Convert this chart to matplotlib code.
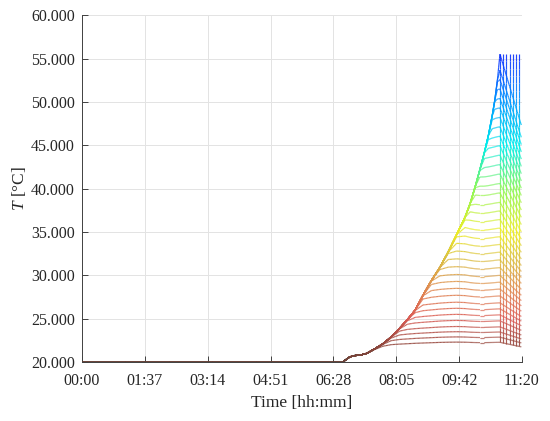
import numpy as np
import matplotlib
matplotlib.use("Agg")
import matplotlib.pyplot as plt
from matplotlib.collections import LineCollection
from matplotlib.colors import Normalize, LinearSegmentedColormap

# ---------------- data ----------------
# time axis in minutes since 00:00
time_min = [0, 403, 414, 422, 430, 440, 452, 465, 478, 491, 503, 515, 527, 540,
            553, 566, 579, 592, 600, 608, 615, 622, 628, 634, 638, 642, 646]
# upper envelope (hottest trace) in degC
envelope = [20.0, 20.0, 20.6, 20.75, 20.8, 21.0, 21.5, 22.1, 22.9, 23.9, 24.9, 26.0,
            27.7, 29.4, 30.9, 32.7, 34.7, 36.7, 38.3, 40.3, 42.2, 44.2, 46.1, 48.4,
            50.2, 52.5, 55.5]
# relative plateau shape of the cooler traces (fraction of rise at the hump)
profile = [1.0, 1.0, 1.0, 1.0, 1.0, 0.80, 0.83, 0.86, 0.88, 0.90, 0.92, 0.94,
           0.955, 0.97, 0.985, 0.995, 1.0, 0.995, 0.985, 0.978, 0.975, 0.975,
           0.978, 0.982, 0.985, 0.988, 0.99]
# plateau level of each trace (degC at ~09:40)
levels = [22.3, 22.9, 23.5, 24.1, 24.8, 25.5, 26.2, 26.9, 27.7, 28.5, 29.3, 30.1,
          31.0, 31.9, 32.8, 33.7, 34.6, 35.6, 36.6, 37.6, 38.6, 39.7, 40.8, 41.9,
          43.0, 44.1, 45.2, 46.3, 47.4, 48.5, 49.6, 50.7, 51.8, 52.9, 54.0]
# final cool-down section
final_time = [651, 656, 661, 666, 671, 676, 679]
final_ratio = [0.965, 0.93, 0.895, 0.86, 0.825, 0.79, 0.77]
spike_time = [646, 651, 656, 661, 666, 671, 676]
spike_top = 55.5

xtick_pos = [0, 97.14, 194.29, 291.43, 388.57, 485.71, 582.86, 680]
xtick_labels = ["00:00", "01:37", "03:14", "04:51", "06:28", "08:05", "09:42", "11:20"]
ytick_vals = [20, 25, 30, 35, 40, 45, 50, 55, 60]

# ---------------- build traces ----------------
plt.rcParams["font.family"] = ["Liberation Serif", "DejaVu Serif"]
plt.rcParams["mathtext.fontset"] = "custom"
plt.rcParams["mathtext.it"] = "Liberation Serif:italic"
plt.rcParams["mathtext.rm"] = "Liberation Serif"

t = np.array(time_min, dtype=float)
env = np.array(envelope)
prof = np.array(profile)
ft = np.array(final_time, dtype=float)
fr = np.array(final_ratio)


def smin(a, b, s=0.3):
    m = np.minimum(a, b)
    return m - s * np.log1p(np.exp(-np.abs(a - b) / s))


traces = []
for L in levels:
    P = 20 + (L - 20) * prof
    y = smin(env, P)
    yy = np.concatenate([y, 20 + (y[-1] - 20) * fr])
    traces.append((np.concatenate([t, ft]), yy))
traces.append((np.concatenate([t, ft]), np.concatenate([env, 20 + (env[-1] - 20) * fr])))

segs, vals = [], []


def add_poly(x, y, n=6):
    for i in range(len(x) - 1):
        xs = np.linspace(x[i], x[i + 1], n + 1)
        ys = np.linspace(y[i], y[i + 1], n + 1)
        for j in range(n):
            segs.append([(xs[j], ys[j]), (xs[j + 1], ys[j + 1])])
            vals.append(0.5 * (ys[j] + ys[j + 1]))


for x, y in traces:
    add_poly(x, y)

allx = traces[0][0]
for st in spike_time:
    idx = int(np.argmin(np.abs(allx - st)))
    lo = min(tr[1][idx] for tr in traces)
    add_poly([st, st], [lo, spike_top], n=40)

cmap = LinearSegmentedColormap.from_list("temp", [
    (0.00, (0.42, 0.26, 0.22)),
    (0.05, (0.58, 0.28, 0.24)),
    (0.125, (0.86, 0.36, 0.33)),
    (0.20, (0.88, 0.52, 0.32)),
    (0.30, (0.86, 0.76, 0.26)),
    (0.375, (0.93, 0.93, 0.15)),
    (0.50, (0.55, 0.97, 0.35)),
    (0.625, (0.0, 0.93, 0.93)),
    (0.75, (0.0, 0.6, 1.0)),
    (0.875, (0.05, 0.2, 1.0)),
    (1.00, (0.0, 0.0, 0.6)),
])

fig = plt.figure(figsize=(5.5, 4.21), dpi=100)
ax = fig.add_axes([0.149, 0.140, 0.800, 0.824])

lc = LineCollection(segs, cmap=cmap, norm=Normalize(20, 60), linewidths=0.85,
                    alpha=0.9, zorder=3)
lc.set_array(np.array(vals))
ax.add_collection(lc)

ax.set_xlim(0, 680)
ax.set_ylim(20, 60)
ax.set_xticks(xtick_pos)
ax.set_xticklabels(xtick_labels)
ax.set_yticks(ytick_vals)
ax.set_yticklabels([f"{v:.3f}" for v in ytick_vals])
ax.tick_params(direction="in", length=4, width=0.6, labelsize=11.5,
               colors="#262626")
ax.tick_params(axis="x", pad=8)
ax.tick_params(axis="y", pad=5)
ax.grid(True, color="#e3e3e3", linewidth=0.7, zorder=0)
ax.set_axisbelow(True)
for s in ["top", "right"]:
    ax.spines[s].set_visible(False)
for s in ["left", "bottom"]:
    ax.spines[s].set_color("#404040")
    ax.spines[s].set_linewidth(0.7)

ax.set_xlabel("Time [hh:mm]", fontsize=12.5, color="#262626", labelpad=4)
ax.set_ylabel(r"$T$ [°C]", fontsize=12.5, color="#262626", labelpad=2)

fig.savefig("out.png", dpi=100)
